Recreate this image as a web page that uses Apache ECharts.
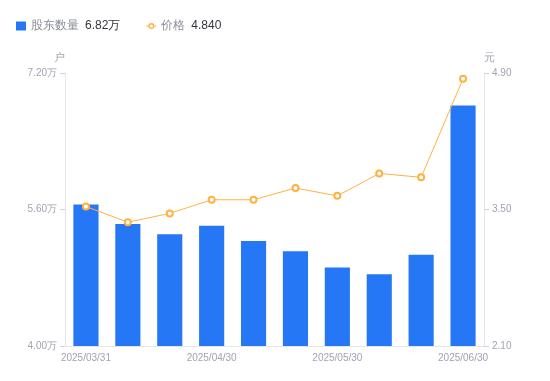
<!DOCTYPE html>
<html><head><meta charset="utf-8">
<script src="https://cdn.jsdelivr.net/npm/echarts@6/dist/echarts.min.js"></script>
<style>html,body{margin:0;padding:0;background:#fff}#c{width:550px;height:381px}</style>
</head><body><div id="c"></div>
<script>
const categories = ['2025/03/31','2025/04/10','2025/04/18','2025/04/30','2025/05/09','2025/05/20','2025/05/30','2025/06/10','2025/06/20','2025/06/30'];
const holders = [5.66, 5.43, 5.31, 5.41, 5.23, 5.11, 4.92, 4.84, 5.07, 6.82];
const prices = [3.53, 3.37, 3.46, 3.60, 3.60, 3.72, 3.64, 3.87, 3.83, 4.84];
const leftTicks = [4.00, 5.60, 7.20];
const rightTicks = [2.10, 3.50, 4.90];
const barName = '股东数量', lineName = '价格';

const blue = '#2677F5', orange = '#FFB23F', labelColor = '#A0A3B1', lineColor = '#E4E6EB';
const font = 'Liberation Sans, Arial, sans-serif';
const lastHolder = holders[holders.length-1].toFixed(2) + '万';
const lastPrice = prices[prices.length-1].toFixed(3);
const lineIcon = 'path://M0,4.1h2.2v0.8h-2.2z M7.8,4.1h2.2v0.8h-2.2z M2,4.5A3,3 0 1,1 8,4.5A3,3 0 1,1 2,4.5z M3.4,4.5A1.6,1.6 0 1,0 6.6,4.5A1.6,1.6 0 1,0 3.4,4.5z';

const chart = echarts.init(document.getElementById('c'));
chart.setOption({
  animation: false,
  legend: {
    left: 11, top: 15, itemGap: 26, itemWidth: 10, itemHeight: 9,
    data: [{name: barName, icon: 'rect'}, {name: lineName, icon: lineIcon}],
    formatter: n => n === barName ? '{n|' + n + '}{v|' + lastHolder + '}' : '{n|' + n + '}{v|' + lastPrice + '}',
    textStyle: {
      fontFamily: font,
      rich: {
        n: {fontSize: 12, color: '#8A8D99', fontFamily: font, padding: [0, 6, 0, 0]},
        v: {fontSize: 12, color: '#33353C', fontFamily: font}
      }
    }
  },
  grid: {left: 65, right: 66, top: 73, bottom: 35},
  xAxis: {type: 'category', data: categories,
     axisLine: {lineStyle: {color: lineColor}}, axisTick: {show: false},
     axisLabel: {interval: 2, color: labelColor, fontSize: 10, fontFamily: font, margin: 7}},
  yAxis: [
    {type: 'value', min: leftTicks[0], max: leftTicks[leftTicks.length-1],
     name: '户', nameGap: 10, nameTextStyle: {color: labelColor, fontSize: 11, fontFamily: font, align: 'right'},
     axisLine: {show: true, lineStyle: {color: lineColor}},
     axisTick: {show: true, length: 5, lineStyle: {color: '#D0D3DA'}, customValues: leftTicks},
     axisLabel: {color: labelColor, fontSize: 10, margin: 8, fontFamily: font, customValues: leftTicks, formatter: v => v.toFixed(2) + '万'},
     splitLine: {show: false}},
    {type: 'value', position: 'right', min: rightTicks[0], max: rightTicks[rightTicks.length-1],
     name: '元', nameGap: 10, nameTextStyle: {color: labelColor, fontSize: 11, fontFamily: font, align: 'left'},
     axisLine: {show: true, lineStyle: {color: lineColor}},
     axisTick: {show: true, length: 5, lineStyle: {color: '#D0D3DA'}, customValues: rightTicks},
     axisLabel: {color: labelColor, fontSize: 10, margin: 8, fontFamily: font, customValues: rightTicks, formatter: v => v.toFixed(2)},
     splitLine: {show: false}}
  ],
  series: [
    {name: barName, type: 'bar', yAxisIndex: 0, data: holders, barWidth: '60%',
     itemStyle: {color: blue}},
    {name: lineName, type: 'line', yAxisIndex: 1, data: prices,
     symbol: 'emptyCircle', symbolSize: 6, z: 5,
     lineStyle: {color: orange, width: 1}, itemStyle: {color: orange, borderWidth: 1.5}}
  ]
});
</script></body></html>
